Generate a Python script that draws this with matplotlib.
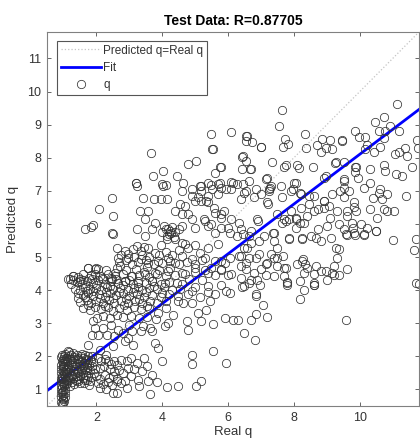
import numpy as np
import matplotlib
matplotlib.use('Agg')
import matplotlib.pyplot as plt

plt.rcParams['font.family'] = ['Liberation Sans', 'DejaVu Sans']

# valeurs (Real q, Predicted q)
low_column = np.array([
    [0.96,0.55],[1.00,0.58],[0.94,0.63],[1.03,0.66],[0.98,0.70],[0.93,0.76],[1.04,0.78],[0.99,0.83],
    [0.94,0.88],[1.05,0.90],[1.00,0.95],[0.93,1.00],[1.06,1.02],[0.97,1.06],[1.02,1.10],[0.92,1.13],
    [1.07,1.15],[0.98,1.19],[1.03,1.23],[0.94,1.26],[1.08,1.28],[1.00,1.32],[0.93,1.36],[1.05,1.38],
    [0.97,1.42],[1.02,1.46],[0.92,1.49],[1.08,1.51],[0.99,1.55],[1.04,1.58],[0.94,1.62],[1.07,1.64],
    [0.98,1.68],[1.03,1.71],[0.93,1.75],[1.06,1.77],[1.00,1.81],[0.95,1.85],[1.04,1.87],[0.98,1.91],
    [1.08,1.94],[0.94,1.97],[1.02,2.00],[0.97,2.05],[1.05,2.08],[1.00,0.74],[0.97,0.92],[1.01,1.17],
    [0.96,1.34],[1.02,1.53],[0.99,1.72],[1.01,1.89]])

low_cluster = np.array([
    [1.12,1.20],[1.18,1.28],[1.25,1.22],[1.15,1.38],[1.22,1.45],[1.30,1.35],[1.38,1.28],[1.45,1.32],
    [1.12,1.52],[1.20,1.60],[1.28,1.55],[1.35,1.48],[1.42,1.42],[1.50,1.40],[1.58,1.35],[1.65,1.30],
    [1.72,1.28],[1.80,1.25],[1.15,1.70],[1.23,1.75],[1.30,1.68],[1.38,1.62],[1.45,1.58],[1.52,1.55],
    [1.60,1.50],[1.68,1.45],[1.76,1.42],[1.85,1.38],[1.12,1.85],[1.20,1.92],[1.27,1.86],[1.35,1.80],
    [1.42,1.76],[1.50,1.72],[1.58,1.68],[1.65,1.62],[1.72,1.60],[1.80,1.58],[1.15,2.00],[1.24,2.05],
    [1.32,1.98],[1.40,1.92],[1.48,1.88],[1.55,1.85],[1.62,1.80],[1.70,1.78],[1.78,1.75],[1.86,1.72],
    [1.18,2.12],[1.30,2.10],[1.42,2.05],[1.52,2.00],[1.60,1.95],[1.68,1.92],[1.76,1.90],[1.85,1.88],
    [1.55,2.08],[1.66,2.04],[1.75,2.02],[1.88,2.00],[1.10,1.95],[1.10,1.62],[1.10,1.30],[1.33,1.15],
    [1.50,1.18],[1.62,1.20],[1.78,1.12],[1.28,1.92],[1.45,1.95],[1.25,1.40],[1.40,1.52],[1.55,1.62],
    [1.70,1.68],[1.35,1.70],[1.60,1.75],[1.45,1.25],[1.20,1.10],[1.92,1.50],[1.95,1.62],[1.90,1.82]])

low_band = np.array([
    [2.05,1.95],[2.15,1.85],[2.25,1.92],[2.35,1.85],[2.45,1.78],[2.55,1.85],[2.62,1.75],[2.75,1.88],
    [2.92,1.85],[3.05,1.95],[2.10,1.65],[2.22,1.70],[2.40,1.62],[2.55,1.55],[2.70,1.60],[2.82,1.50],
    [2.00,1.40],[2.12,1.32],[2.25,1.45],[2.38,1.35],[2.50,1.42],[2.62,1.32],[2.87,1.26],[2.05,1.20],
    [2.20,1.15],[2.35,1.22],[2.48,1.12],[2.62,1.25],[2.75,1.18],[2.92,1.04],[2.52,0.89],[2.62,0.89],
    [2.30,1.02],[2.10,1.05],[3.22,1.80],[3.27,1.29],[3.58,1.26],[3.63,0.87],[3.83,1.24],[3.98,1.87],
    [4.13,1.06],[4.48,1.11],[4.89,1.77],[4.89,2.05],[5.04,1.09],[5.17,1.26],[5.55,2.15],[5.95,1.80],
    [3.12,2.35],[2.87,2.45],[2.52,2.30],[3.88,2.25],[3.78,2.40],[3.40,1.55],[3.55,1.70],[3.30,1.10],
    [3.05,1.40],[3.15,1.62],[3.70,1.45],[2.95,1.65],[3.45,1.95],[1.76,2.35],[1.15,2.15],[2.10,2.20],
    [2.30,2.05]])

mid_band = np.array([
    [1.75,4.68],[2.00,4.66],[2.30,4.62],[2.62,4.68],[2.90,4.60],[3.20,4.65],[3.55,4.70],[3.90,4.60],
    [4.25,4.66],[1.14,4.35],[1.29,4.42],[1.45,4.40],[1.60,4.48],[1.85,4.45],[2.10,4.42],[2.35,4.50],
    [2.58,4.44],[2.80,4.48],[3.05,4.42],[3.30,4.46],[3.60,4.40],[3.85,4.48],[4.10,4.42],[4.40,4.45],
    [4.70,4.50],[1.22,4.20],[1.40,4.25],[1.55,4.18],[1.70,4.28],[1.90,4.22],[2.05,4.30],[2.25,4.20],
    [2.45,4.28],[2.65,4.22],[2.87,4.27],[3.10,4.20],[3.27,4.28],[3.50,4.22],[3.70,4.28],[3.95,4.20],
    [4.20,4.26],[4.45,4.22],[1.35,4.05],[1.50,4.00],[1.65,4.10],[1.80,4.02],[1.98,4.08],[2.15,4.00],
    [2.32,4.10],[2.50,4.02],[2.72,4.08],[2.95,4.00],[3.15,4.06],[3.40,4.00],[3.60,4.08],[3.85,4.02],
    [4.05,4.10],[4.30,4.00],[4.55,4.05],[1.45,3.92],[1.60,3.85],[1.75,3.90],[1.90,3.82],[2.08,3.88],
    [2.25,3.80],[2.42,3.90],[2.60,3.84],[2.80,3.90],[3.00,3.82],[3.22,3.88],[3.45,3.80],[3.70,3.86],
    [3.95,3.80],[4.20,3.88],[4.48,3.82],[4.79,3.87],[4.89,3.97],[1.50,3.65],[1.70,3.70],[1.85,3.62],
    [2.00,3.68],[2.20,3.60],[2.38,3.70],[2.55,3.62],[2.75,3.68],[2.95,3.60],[3.18,3.66],[3.40,3.60],
    [3.62,3.68],[3.85,3.62],[4.10,3.68],[4.48,3.67],[4.64,3.62],[1.60,3.45],[1.80,3.40],[1.95,3.50],
    [2.15,3.42],[2.35,3.48],[2.52,3.38],[2.70,3.45],[2.92,3.40],[3.15,3.48],[3.35,3.42],[3.60,3.45],
    [3.88,3.31],[4.10,3.45],[4.33,3.26],[1.91,3.06],[2.01,3.16],[2.20,3.22],[2.42,3.15],[2.62,3.25],
    [2.82,3.18],[3.05,3.22],[3.30,3.15],[3.55,3.20],[3.80,3.12],[4.18,3.01],[4.74,3.06],[5.09,3.31],
    [5.34,3.41],[5.45,3.67],[5.19,3.06],[5.55,2.98],[5.90,3.16],[6.15,3.11],[1.96,2.86],[2.21,2.86],
    [2.45,2.95],[2.66,2.81],[2.82,2.71],[3.00,2.95],[3.07,2.76],[3.37,2.76],[3.42,2.91],[3.63,2.86],
    [3.68,2.76],[4.08,2.91],[4.79,2.81],[1.86,2.66],[2.06,2.66],[2.31,2.66],[2.97,2.56],[2.55,2.60],
    [1.58,4.32],[1.78,4.38],[2.00,4.15],[2.20,4.35],[2.40,4.12],[2.60,4.35],[2.80,4.15],[1.70,3.98],
    [1.90,3.96],[2.10,3.75],[2.30,3.95],[2.50,3.76],[2.70,3.95],[2.90,3.72],[3.10,3.95],[3.30,3.74],
    [1.65,3.78],[3.50,3.95],[3.25,4.10],[3.00,4.30],[2.45,4.38],[1.95,4.50],[3.45,4.55],[3.75,4.12],
    [4.00,3.90],[3.55,3.52],[2.25,3.52],[1.75,3.55],[2.85,3.55],[1.50,4.27],[1.45,3.75],[1.30,4.30]])

upper_mid = np.array([
    [2.48,6.78],[2.09,6.45],[1.64,5.86],[1.84,5.92],[1.91,5.96],[2.48,5.74],[2.50,5.69],[2.62,5.28],
    [3.22,5.84],[3.42,6.77],[3.76,6.75],[3.96,6.75],[4.16,6.75],[3.22,7.15],[4.03,7.15],[3.32,6.39],
    [3.58,6.39],[3.47,6.14],[3.78,6.04],[3.68,5.84],[3.47,5.64],[4.59,7.00],[4.89,7.05],[5.19,7.00],
    [5.39,6.85],[5.34,6.70],[4.99,6.70],[4.54,6.60],[4.69,6.53],[4.38,6.39],[4.79,6.29],[4.59,6.29],
    [5.60,6.34],[5.80,6.29],[6.10,6.14],[5.29,6.09],[4.89,6.14],[4.59,5.94],[4.99,5.89],[5.39,5.94],
    [5.80,5.89],[6.05,5.74],[5.60,5.74],[5.70,5.38],[5.39,5.28],[5.14,5.13],[4.79,5.28],[4.59,5.43],
    [4.28,5.74],[4.13,5.64],[4.18,5.84],[4.38,5.54],[3.22,5.33],[3.37,5.18],[3.58,5.28],[3.78,5.13],
    [2.87,5.18],[2.67,4.98],[2.97,4.98],[2.72,4.73],[3.07,4.78],[3.37,4.93],[3.58,4.83],[3.88,4.88],
    [4.18,4.98],[4.38,4.83],[4.59,5.03],[4.89,4.93],[5.29,4.98],[5.60,4.88],[5.90,4.83],[6.05,4.98],
    [4.99,4.68],[5.39,4.53],[5.80,4.63],[4.59,4.53],[4.18,4.58],[3.78,4.53],[3.47,4.48],[3.07,4.42],
    [2.57,4.53],[2.06,4.63],[1.76,4.68],[1.96,4.63],[1.30,4.42],[1.20,4.33],[1.51,4.33],[1.86,4.33],
    [2.16,4.37],[2.46,4.33],[2.87,4.27],[3.27,4.22],[3.68,4.27],[4.08,4.22],[3.21,7.25],[2.50,6.24],
    [4.00,5.75],[4.10,5.85],[4.20,5.70],[4.30,5.90],[4.40,5.75],[4.15,5.55],[4.35,5.60],[4.25,5.80],
    [4.05,5.95],[4.50,5.85],[4.90,6.85],[5.10,6.80],[5.50,7.05],[5.70,6.90],[5.95,7.05],[2.75,5.05],
    [2.95,5.10],[3.15,5.00],[3.40,5.05],[3.60,5.00],[3.90,5.05],[4.10,5.15],[4.30,5.05],[4.50,5.20],
    [2.70,4.85],[2.90,4.90],[3.25,4.85],[3.50,4.90],[3.75,4.78],[4.00,4.82],[4.25,4.88],[4.50,4.78],
    [4.75,4.85],[5.00,4.80],[5.20,4.90],[3.10,5.25],[3.45,5.30],[3.95,5.35],[4.70,5.40],[5.00,5.35],
    [4.60,4.20],[4.80,4.35],[5.00,4.10],[5.20,4.30],[5.40,4.12],[5.60,3.87],[5.80,4.17],[5.95,3.97],
    [6.05,3.92],[5.00,4.55],[5.30,4.60],[5.60,4.45],[5.80,4.60],[6.10,4.50],[4.90,3.60],[5.15,3.80],
    [5.40,3.95],[5.18,6.70],[5.38,6.65],[5.58,6.49],[5.89,6.39],[5.28,6.14],[5.48,5.99],[5.79,6.19],
    [5.99,5.89],[5.99,4.47],[5.79,4.88],[5.48,4.68],[5.18,7.15],[5.38,7.25],[5.74,7.25],[5.79,7.10],
    [6.14,7.25],[6.09,7.05]])

high_sparse = np.array([
    [5.47,8.72],[6.08,8.77],[3.65,8.15],[5.52,8.25],[4.79,7.81],[5.02,7.91],[5.77,7.73],[5.60,7.55],
    [4.01,7.60],[3.71,7.45],[4.44,7.45],[3.20,7.25],[3.98,7.22],[4.10,7.18],[4.63,7.24],[5.15,7.14],
    [5.47,7.18],[5.70,7.22],[6.08,7.28],[11.13,9.63],[7.64,9.43],[7.56,8.96],[10.73,9.24],[10.47,9.07],
    [10.93,8.97],[9.87,8.80],[10.59,8.80],[10.78,8.80],[11.20,8.80],[9.97,8.62],[10.15,8.62],[10.73,8.60],
    [6.58,8.67],[6.56,8.52],[6.74,8.49],[7.01,8.33],[7.73,8.56],[7.67,8.33],[7.82,8.43],[8.33,8.72],
    [8.38,8.31],[8.71,8.39],[8.86,8.56],[9.11,8.53],[8.83,8.16],[8.99,8.29],[9.16,8.26],[9.46,8.53],
    [10.22,8.39],[10.17,8.26],[10.62,8.33],[10.42,8.16],[11.38,8.31],[11.08,8.11],[11.18,8.16],[11.43,8.06],
    [11.74,8.53],[11.77,8.31],[6.43,8.03],[6.56,7.91],[6.43,7.66],[6.66,7.66],[7.32,7.86],[7.75,7.79],
    [7.70,7.71],[8.10,7.79],[8.15,7.69],[8.57,7.71],[9.26,7.83],[9.51,7.86],[9.87,7.71],[9.87,7.56],
    [10.32,7.66],[10.73,7.79],[10.78,7.61],[11.11,7.52],[11.28,7.45],[11.58,7.73],[7.17,7.40],[8.00,7.25],
    [8.91,7.40],[9.51,7.35],[9.94,7.40],[10.32,7.25],[6.63,7.30],[6.28,7.20],[7.27,7.10],[9.51,7.10],
    [10.62,7.05],[5.53,8.26],[6.54,8.67],[7.00,8.33],[9.47,8.51],[5.79,7.71]])

right_mid = np.array([
    [11.40,6.83],[10.57,6.95],[10.83,6.90],[10.40,6.77],[10.67,6.75],[10.32,6.45],[10.73,6.45],[11.03,6.39],
    [10.50,5.79],[11.00,5.52],[11.66,5.20],[11.72,5.56],[11.72,4.22],[9.39,7.00],[9.67,7.00],[10.12,7.10],
    [9.53,6.80],[9.82,6.67],[9.61,6.39],[9.84,6.50],[9.11,6.19],[9.36,5.99],[9.77,6.04],[9.79,5.89],
    [9.51,5.84],[9.61,5.66],[9.87,5.66],[10.12,5.66],[9.13,5.59],[8.81,5.49],[8.52,5.64],[8.25,5.56],
    [7.85,5.56],[7.39,5.74],[7.39,5.49],[7.49,5.28],[7.29,5.08],[7.67,5.03],[7.75,4.68],[7.19,4.83],
    [7.14,4.47],[6.99,4.63],[6.94,5.08],[6.69,5.43],[6.53,4.83],[6.53,4.63],[6.79,4.53],[6.89,4.32],
    [7.39,4.42],[7.70,4.42],[8.28,4.93],[8.35,4.78],[8.30,4.53],[8.60,4.48],[8.83,4.58],[9.16,4.53],
    [9.21,4.73],[9.31,4.98],[9.36,5.23],[9.61,4.65],[9.01,4.32],[8.60,4.22],[7.85,6.14],[8.05,6.14],
    [8.20,6.04],[8.05,5.89],[8.30,6.04],[7.70,6.14],[8.60,6.39],[8.91,6.70],[9.06,6.55],[8.45,6.60],
    [8.60,6.85],[8.20,6.95],[7.90,7.00],[7.24,7.05],[6.99,6.90],[7.19,6.65],[6.79,6.80],[6.38,6.75],
    [6.48,6.95],[6.89,6.14],[6.33,6.04],[6.38,5.84],[6.28,5.64],[6.63,5.64],[7.09,5.64],[6.48,5.28],
    [6.33,5.03],[6.63,4.98],[6.38,4.73],[6.38,4.37],[6.69,4.32],[7.39,4.98],[7.49,4.73],[7.80,4.22],
    [8.20,4.27],[9.36,4.47],[8.10,4.78],[7.25,6.99],[7.65,6.80],[7.20,6.59],[7.50,6.29],[7.76,6.09],
    [8.06,6.19],[7.91,6.39],[8.21,6.49],[8.41,6.24],[8.72,6.44],[8.92,6.49],[9.32,6.39],[9.62,6.24],
    [9.88,6.39],[10.03,5.99],[10.23,5.89],[10.53,6.19],[10.84,6.39],[6.44,5.69],[6.70,5.79],[6.90,6.09],
    [6.95,5.48],[7.35,5.74],[7.65,6.04],[7.86,5.59],[8.26,5.59],[8.66,5.59],[8.72,5.84],[9.02,5.94],
    [9.27,5.28],[9.57,5.69],[9.83,5.74],[10.13,5.69],[10.48,5.79],[6.59,5.28],[6.39,5.03],[6.85,4.98],
    [7.15,4.78],[7.50,4.98],[7.71,4.68],[8.26,4.88],[8.41,4.68],[8.66,4.73],[8.97,4.57],[9.22,4.47],
    [8.61,4.17],[6.85,3.87],[8.21,6.90],[8.46,6.85],[8.97,7.45],[9.52,7.30],[8.92,6.70],[9.17,6.90],
    [6.44,8.06],[6.70,7.66],[6.44,7.20],[6.54,7.00],[6.85,7.05],[7.15,7.35],[7.30,7.15],[7.60,7.15],
    [7.96,7.05],[8.06,7.25],[9.27,7.86],[9.88,7.71]])

right_low = np.array([
    [6.48,4.12],[6.43,4.09],[6.63,4.22],[6.97,4.15],[6.84,3.82],[7.07,3.55],[6.84,3.29],[7.19,3.18],
    [6.30,3.10],[6.69,3.10],[6.48,2.71],[6.81,2.50],[7.78,4.17],[7.80,4.24],[8.18,3.72],[8.30,3.99],
    [8.60,4.15],[9.58,3.10],[11.81,4.19]])

# droite de regression : Predicted = a*Real + b
fit_slope = 0.752
fit_intercept = 0.585
lims = [0.5, 11.8]

pts = np.vstack([low_column, low_cluster, low_band, mid_band, upper_mid,
                 high_sparse, right_mid, right_low])

fig = plt.figure(figsize=(4.2, 4.45), dpi=100)
ax = fig.add_axes([47/420, 39/445, 372/420, 374/445])

xx = np.array(lims)
ax.plot(xx, xx, ':', color='#c4c4c4', lw=0.9, label='Predicted q=Real q')
ax.plot(xx, fit_slope*xx + fit_intercept, '-', color='#0000ff', lw=2, label='Fit')
ax.plot(pts[:, 0], pts[:, 1], 'o', ms=6, mfc='none', mec='#333333', mew=0.55, label='q')

ax.set_xlim(lims)
ax.set_ylim(lims)
ax.set_xticks([2, 4, 6, 8, 10])
ax.set_yticks(range(1, 12))
ax.tick_params(direction='in', top=True, right=True, length=3, width=0.7,
               labelsize=9, colors='#666666', labelcolor='#333333', pad=4)
for s in ax.spines.values():
    s.set_color('#808080')
    s.set_linewidth(0.8)

ax.set_xlabel('Real q', fontsize=9.5, color='#333333', labelpad=2)
ax.set_ylabel('Predicted q', fontsize=9.5, color='#333333', labelpad=6)
ax.set_title('Test Data: R=0.87705', fontsize=10, fontweight='bold', pad=5)

leg = ax.legend(loc='upper left', bbox_to_anchor=(0.027, 0.976), fontsize=8.5,
                handlelength=3.4, handletextpad=0.2, labelspacing=0.45,
                borderpad=0.3, borderaxespad=0, fancybox=False, framealpha=1)
leg.get_frame().set_edgecolor('#555555')
leg.get_frame().set_linewidth(0.8)
for t in leg.get_texts():
    t.set_color('#333333')

plt.savefig('out.png', dpi=100)
